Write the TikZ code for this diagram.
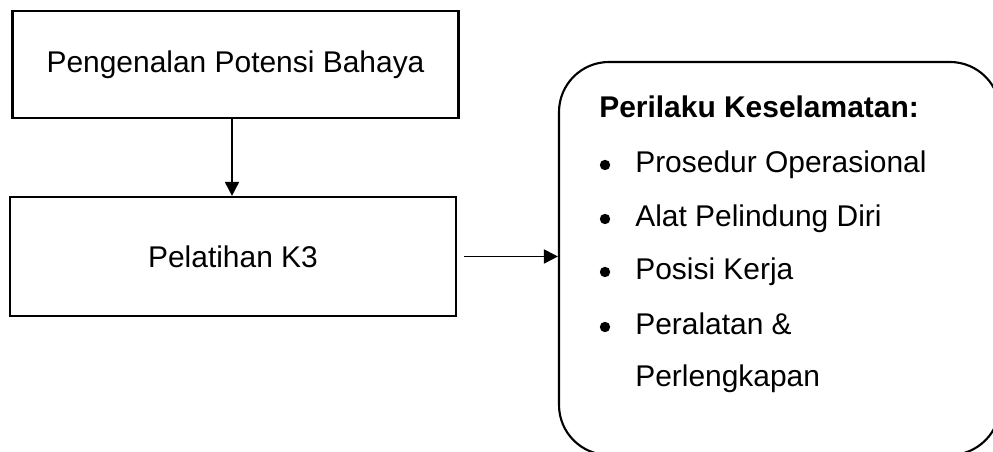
\documentclass[tikz,border=0pt]{standalone}
\usepackage{fontspec}
\setmainfont{Liberation Sans}
\usetikzlibrary{arrows.meta}

\tikzset{
  box/.style={draw, line width=1.5pt, minimum width=11.15cm, align=center},
  link/.style={line width=1.3pt, -{Triangle[length=0.35cm,width=0.35cm]}},
  itemtext/.style={anchor=base west, inner sep=0pt},
  dot/.style={circle, fill, inner sep=0pt, minimum size=0.26cm}
}

\begin{document}
\begin{tikzpicture}[font=\fontsize{21.3}{25}\selectfont]
\useasboundingbox (0,0) rectangle (24.825,11.3);

% Left boxes
\node[box, minimum height=2.675cm] (hazard) at (5.8875,9.6875) {Pengenalan Potensi Bahaya};
\node[box, minimum height=2.975cm] (training) at (5.825,4.8875) {Pelatihan K3};

% Behaviour box (runs off the page at the right and bottom)
\begin{scope}
\clip (0,0) rectangle (24.825,11.3);
\node[draw, line width=1.5pt, rounded corners=1.25cm, minimum width=11.025cm, minimum height=9.825cm] (behaviour) at (19.4875,4.8375) {};
\end{scope}

% Arrows
\draw[link] (hazard.south -| 5.8,0) -- (training.north -| 5.8,0);
\draw[link] ([xshift=5pt]training.east) -- (training.east -| behaviour.west);

% Text in the behaviour box
\node[itemtext, font=\fontsize{21.3}{25}\selectfont\bfseries] (title) at (14.975,8.35) {Perilaku Keselamatan:};
\foreach \y/\txt/\nm in {6.975/Prosedur Operasional/sop, 5.625/Alat Pelindung Diri/apd, 4.3/Posisi Kerja/posisi, 2.925/Peralatan \&/alat} {
  \node[dot] (dot-\nm) at (15.125,\y+0.2) {};
  \node[itemtext] (\nm) at (15.875,\y) {\txt};
}
\node[itemtext] (lengkap) at (15.875,1.625) {Perlengkapan};
\end{tikzpicture}
\end{document}
